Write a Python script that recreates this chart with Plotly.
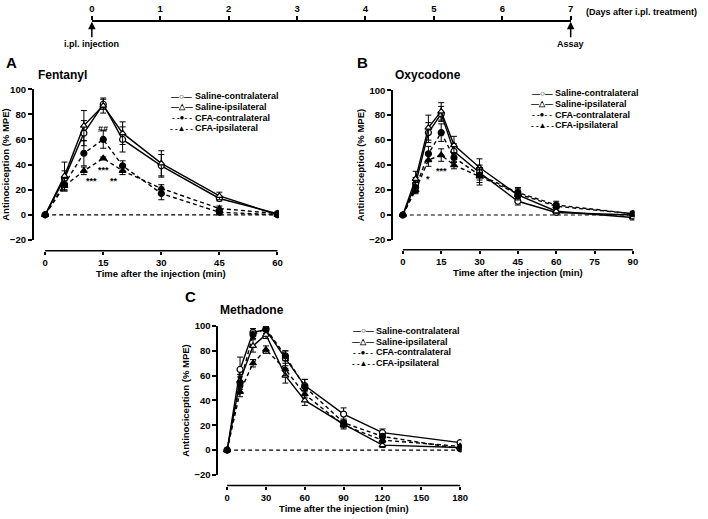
import plotly.graph_objects as go

W, H = 708, 519

series_names = ["Saline-contralateral", "Saline-ipsilateral", "CFA-contralateral", "CFA-ipsilateral"]

# A: Fentanyl
times_a = [0, 5, 10, 15, 20, 30, 45, 60]
fen_sal_contra = [0, 29, 65, 88, 60, 39, 13, 1]
fen_sal_ipsi = [0, 31, 71, 87, 65, 41, 15, 0]
fen_cfa_contra = [0, 24, 49, 60, 39, 17, 2, 0]
fen_cfa_ipsi = [0, 23, 35, 45, 35, 21, 5, 1]
fen_sal_contra_err = [0, 6, 10, 4, 10, 9, 2, 1]
fen_sal_ipsi_err = [0, 11, 12, 6, 9, 10, 3, 1]
fen_cfa_contra_err = [0, 5, 10, 7, 4, 5, 2, 1]
fen_cfa_ipsi_err = [0, 4, 3, 1, 3, 3, 2, 1]
sig_a_x = [15, 15, 12, 17.7]
sig_a_y = [71, 38, 29, 29]
sig_a_text = ["##", "***", "***", "**"]

# B: Oxycodone
times_b = [0, 5, 10, 15, 20, 30, 45, 60, 90]
oxy_sal_contra = [0, 25, 66, 81, 51, 34, 11, 2, 0]
oxy_sal_ipsi = [0, 29, 70, 83, 56, 38, 16, 3, -2]
oxy_cfa_contra = [0, 22, 49, 66, 46, 32, 18, 8, 1]
oxy_cfa_ipsi = [0, 20, 44, 48, 40, 31, 17, 7, 1]
oxy_sal_contra_err = [0, 5, 8, 6, 6, 6, 3, 1, 1]
oxy_sal_ipsi_err = [0, 6, 10, 7, 7, 7, 4, 2, 2]
oxy_cfa_contra_err = [0, 4, 6, 7, 4, 6, 4, 3, 2]
oxy_cfa_ipsi_err = [0, 3, 5, 5, 3, 7, 4, 2, 1]
sig_b_x = [10, 15]
sig_b_y = [31, 38]
sig_b_text = ["*", "***"]

# C: Methadone
times_c = [0, 10, 20, 30, 45, 60, 90, 120, 180]
met_sal_contra = [0, 65, 95, 97, 74, 52, 29, 14, 6]
met_sal_ipsi = [0, 56, 84, 93, 60, 40, 21, 4, 2]
met_cfa_contra = [0, 54, 93, 98, 76, 51, 22, 11, 1]
met_cfa_ipsi = [0, 47, 70, 81, 65, 45, 20, 8, 3]
met_sal_contra_err = [0, 10, 3, 3, 6, 5, 5, 3, 1]
met_sal_ipsi_err = [0, 5, 5, 3, 6, 4, 3, 2, 1]
met_cfa_contra_err = [0, 5, 3, 2, 4, 6, 3, 2, 1]
met_cfa_ipsi_err = [0, 4, 3, 3, 5, 3, 3, 2, 1]

# timeline
days = [0, 1, 2, 3, 4, 5, 6, 7]
events_day = [0, 7]
events_text = ["i.pl. injection", "Assay"]

FONT = "Liberation Sans, Arial, sans-serif"
styles = [
    dict(symbol="circle", fill="white", dash="solid"),
    dict(symbol="triangle-up", fill="white", dash="solid"),
    dict(symbol="circle", fill="black", dash="4px,3px"),
    dict(symbol="triangle-up", fill="black", dash="4px,3px"),
]
legend_glyphs = ["\u2014\u25cb\u2014", "\u2014\u25b3\u2014", "- -\u25cf- -", "- -\u25b2- -"]


def fx(px):
    return px / W


def fy(py):
    return 1 - py / H


panels = [
    dict(sfx="", times=times_a, xticks=[0, 15, 30, 45, 60], title="Fentanyl", letter="A",
         vals=[fen_sal_contra, fen_sal_ipsi, fen_cfa_contra, fen_cfa_ipsi],
         errs=[fen_sal_contra_err, fen_sal_ipsi_err, fen_cfa_contra_err, fen_cfa_ipsi_err],
         sig=(sig_a_x, sig_a_y, sig_a_text),
         yline=31, x0=42.7, x1=278, top=85, bot=239, xline=250,
         leg=(172, 92), letter_pos=(9, 58), title_pos=(33, 70)),
    dict(sfx="2", times=times_b, xticks=[0, 15, 30, 45, 60, 75, 90], title="Oxycodone", letter="B",
         vals=[oxy_sal_contra, oxy_sal_ipsi, oxy_cfa_contra, oxy_cfa_ipsi],
         errs=[oxy_sal_contra_err, oxy_sal_ipsi_err, oxy_cfa_contra_err, oxy_cfa_ipsi_err],
         sig=(sig_b_x, sig_b_y, sig_b_text),
         yline=395, x0=405, x1=638, top=86, bot=239, xline=249,
         leg=(537, 89), letter_pos=(364, 58), title_pos=(395, 70)),
    dict(sfx="3", times=times_c, xticks=[0, 30, 60, 90, 120, 150, 180], title="Methadone", letter="C",
         vals=[met_sal_contra, met_sal_ipsi, met_cfa_contra, met_cfa_ipsi],
         errs=[met_sal_contra_err, met_sal_ipsi_err, met_cfa_contra_err, met_cfa_ipsi_err],
         sig=None,
         yline=218, x0=227, x1=463, top=327, bot=479, xline=490,
         leg=(356, 332), letter_pos=(190, 297), title_pos=(218, 311)),
]

fig = go.Figure()
annotations = []
shapes = []
layout = {}

for p in panels:
    xa, ya = "x" + p["sfx"], "y" + p["sfx"]
    tmax = p["times"][-1]
    ppu = (p["x1"] - p["x0"]) / tmax
    xr = [-(p["x0"] - p["yline"]) / ppu, tmax + 1.5 / ppu]

    for name, v, e, st in zip(series_names, p["vals"], p["errs"], styles):
        fig.add_trace(go.Scatter(
            x=p["times"], y=v, name=name, mode="lines+markers",
            xaxis=xa, yaxis=ya, showlegend=False,
            line=dict(color="black", width=1.4, dash=st["dash"]),
            marker=dict(symbol=st["symbol"], size=6, color=st["fill"],
                        line=dict(color="black", width=1.2)),
            error_y=dict(type="data", array=e, color="black", thickness=1, width=3),
        ))

    layout["xaxis" + p["sfx"]] = dict(
        domain=[fx(p["yline"]), fx(p["x1"] + 1.5)], range=xr, anchor="free",
        position=fy(p["xline"]), tickvals=p["xticks"], ticks="outside", ticklen=3,
        tickwidth=1.5, tickcolor="black", showline=False, showgrid=False, zeroline=False,
        tickfont=dict(size=9.5, family=FONT, color="black", weight="bold"),
    )
    layout["yaxis" + p["sfx"]] = dict(
        domain=[fy(p["bot"]), fy(p["top"])], range=[-20, 100], anchor=xa,
        tickvals=[-20, 0, 20, 40, 60, 80, 100], ticks="outside", ticklen=4, tickwidth=1.5,
        tickcolor="black", showline=True, linewidth=1.5, linecolor="black",
        showgrid=False, zeroline=False,
        tickfont=dict(size=9.5, family=FONT, color="black", weight="bold"),
        title=dict(text="Antinociception (% MPE)", standoff=3,
                   font=dict(size=9.5, family=FONT, color="black", weight="bold")),
    )

    # x axis line spanning only the data range
    shapes.append(dict(type="line", xref=xa, yref="paper", x0=0, x1=tmax,
                       y0=fy(p["xline"]), y1=fy(p["xline"]),
                       line=dict(color="black", width=1.5)))
    # dashed zero reference
    shapes.append(dict(type="line", xref=xa, yref=ya, x0=0, x1=tmax, y0=0, y1=0,
                       layer="below", line=dict(color="black", width=1.2, dash="4px,3px")))

    annotations.append(dict(xref="paper", yref="paper", x=fx((p["x0"] + p["x1"]) / 2),
                            y=fy(p["xline"] + 23), text="Time after the injection (min)",
                            showarrow=False, xanchor="center", yanchor="middle",
                            font=dict(size=9.5, family=FONT, color="black", weight="bold")))
    annotations.append(dict(xref="paper", yref="paper", x=fx(p["title_pos"][0]),
                            y=fy(p["title_pos"][1]), text=p["title"], showarrow=False,
                            xanchor="left", yanchor="middle",
                            font=dict(size=12, family=FONT, color="black", weight="bold")))
    annotations.append(dict(xref="paper", yref="paper", x=fx(p["letter_pos"][0]),
                            y=fy(p["letter_pos"][1]), text=p["letter"], showarrow=False,
                            xanchor="center", yanchor="middle",
                            font=dict(size=15, family=FONT, color="black", weight="bold")))

    # compact legend: symbol + label per row
    lx, ly = p["leg"]
    for i, (name, g) in enumerate(zip(series_names, legend_glyphs)):
        annotations.append(dict(
            xref="paper", yref="paper", x=fx(lx + 9), y=fy(ly + i * 11), showarrow=False,
            xanchor="center", yanchor="middle", text=g,
            font=dict(size=8, family=FONT, color="black", weight="bold")))
        annotations.append(dict(
            xref="paper", yref="paper", x=fx(lx + 20), y=fy(ly + i * 11), showarrow=False,
            xanchor="left", yanchor="middle", text=name,
            font=dict(size=9, family=FONT, color="black", weight="bold")))

    if p["sig"]:
        for sx, sy, st in zip(*p["sig"]):
            annotations.append(dict(xref=xa, yref=ya, x=sx, y=sy, text=st, showarrow=False,
                                    xanchor="center", yanchor="middle", yshift=-3,
                                    font=dict(size=9, family=FONT, color="black", weight="bold")))

# timeline at the top
line_py = 15
fig.add_trace(go.Scatter(x=days, y=[0] * len(days), xaxis="x4", yaxis="y4",
                         mode="markers", marker=dict(opacity=0), showlegend=False,
                         hoverinfo="skip"))
layout["xaxis4"] = dict(
    domain=[fx(90), fx(575)], range=[0, 7], anchor="free", position=fy(line_py), side="top",
    tickvals=days, ticks="outside", ticklen=4, tickwidth=1.5, tickcolor="black",
    showline=True, linewidth=1.5, linecolor="black", showgrid=False, zeroline=False,
    tickfont=dict(size=9.5, family=FONT, color="black", weight="bold"),
)
layout["yaxis4"] = dict(domain=[fy(30), fy(10)], anchor="x4", visible=False, range=[-1, 1])
for d, t in zip(events_day, events_text):
    annotations.append(dict(xref="x4", yref="paper", x=d, y=fy(line_py + 1), text=t,
                            showarrow=True, arrowhead=2, arrowsize=1, arrowwidth=1.5,
                            arrowcolor="black", ax=0, ay=22,
                            font=dict(size=9, family=FONT, color="black", weight="bold")))
annotations.append(dict(xref="paper", yref="paper", x=fx(705), y=fy(6),
                        text="(Days after i.pl. treatment)", showarrow=False,
                        xanchor="right", yanchor="middle",
                        font=dict(size=9, family=FONT, color="black", weight="bold")))

fig.update_layout(
    width=W, height=H, margin=dict(l=0, r=0, t=0, b=0),
    paper_bgcolor="white", plot_bgcolor="white",
    font=dict(family=FONT, color="black"),
    annotations=annotations, shapes=shapes, showlegend=False,
    **layout,
)

fig.write_html("out.html", config={"displayModeBar": False},
               post_script="document.body.style.margin='0px';")
